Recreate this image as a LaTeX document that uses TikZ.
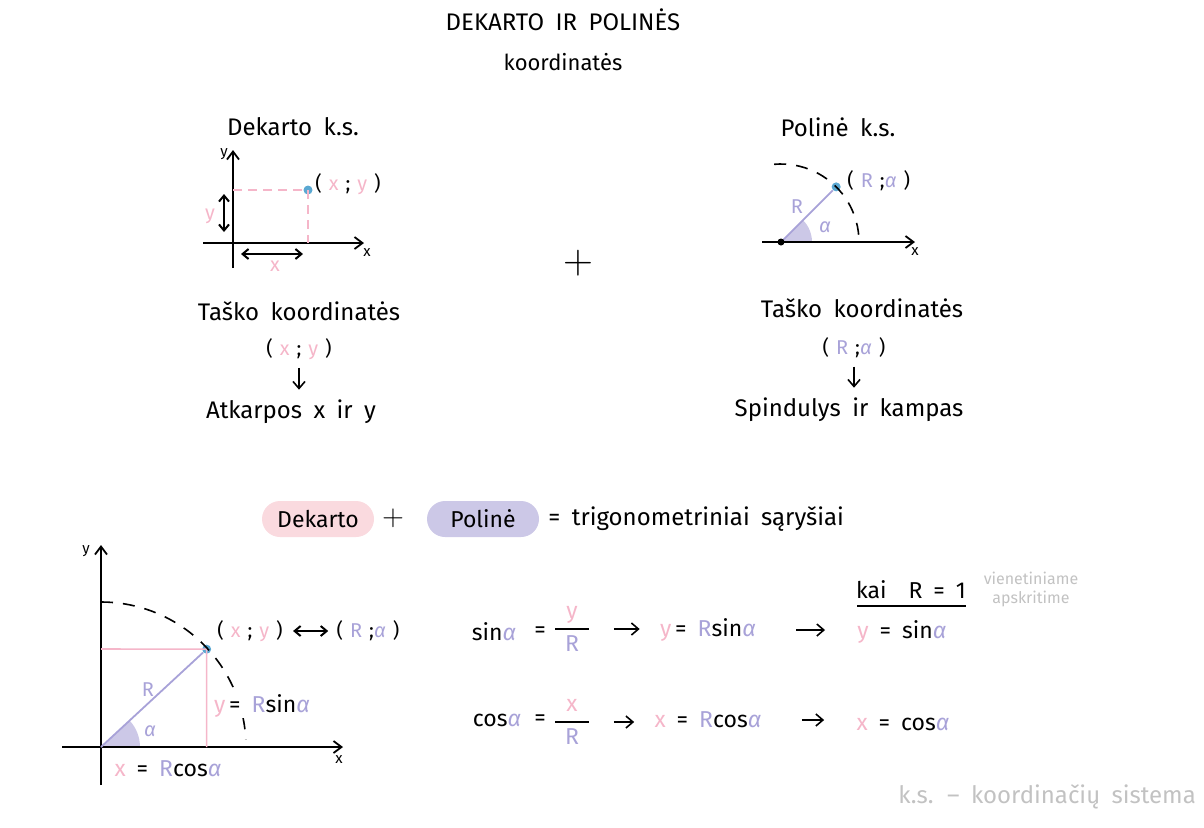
\documentclass[tikz,border=0pt]{standalone}
\usepackage{fontspec}
\setmainfont{Fira Sans}[WordSpace=1.8]
\usepackage{xcolor}
\definecolor{pinkc}{HTML}{F5B6C9}
\definecolor{pinkfill}{HTML}{FADADF}
\definecolor{lav}{HTML}{A8A2D8}
\definecolor{lavfill}{HTML}{CCC8E7}
\definecolor{dotblue}{HTML}{5AA8D2}
\definecolor{notegray}{HTML}{C2C2C2}
\usetikzlibrary{arrows.meta,positioning,calc}
\tikzset{
  lbl/.style   = {font=\fontsize{12}{14}\selectfont, inner sep=1pt},
  eqn/.style   = {font=\fontsize{11.5}{14}\selectfont, inner sep=1pt},
  small/.style = {font=\fontsize{10}{12}\selectfont, inner sep=1pt},
  tiny/.style  = {font=\fontsize{7.5}{9}\selectfont, inner sep=1pt},
  note/.style  = {text=notegray, inner sep=1pt},
  pill/.style  = {rounded corners=9pt, minimum width=56pt, minimum height=18pt,
                  inner sep=0pt, font=\fontsize{11.5}{14}\selectfont},
  dot/.style   = {circle, fill=dotblue, inner sep=0pt, minimum size=4.5pt},
  axis/.style  = {-{Straight Barb[length=4pt,width=6pt]}, line width=0.9pt},
  arr/.style   = {-{Straight Barb[length=3.5pt,width=6pt]}, line width=0.8pt},
  dbl/.style   = {{Straight Barb[length=3pt,width=5pt]}-{Straight Barb[length=3pt,width=5pt]}, line width=1pt},
  guide/.style = {pinkc, line width=0.8pt},
  ray/.style   = {lav, line width=0.9pt},
  arcdash/.style = {dash pattern=on 6pt off 5pt, line width=0.8pt}
}
\newcommand{\xp}{\textcolor{pinkc}{x}}
\newcommand{\yp}{\textcolor{pinkc}{y}}
\newcommand{\Rl}{\textcolor{lav}{R}}
\newcommand{\alf}{\textcolor{lav}{\itshape α}}
\newcommand{\gp}{\hspace{3.5pt}}
\newcommand{\frc}[2]{$\displaystyle{\hbox to 17pt{\hss#1\hss}\above0.8pt\hbox to 17pt{\hss#2\hss}}$}

\begin{document}
\begin{tikzpicture}[x=0.5pt,y=-0.5pt]
  \useasboundingbox (0,0) rectangle (1204,827);

  % title
  \node[lbl] (title) at (563,20) {DEKARTO IR POLINĖS};
  \node[font=\fontsize{11}{13}\selectfont] (sub) at (563,62) {koordinatės};

  % Dekarto k.s.
  \node[lbl] (dekhead) at (293,127) {Dekarto k.s.};
  \draw[axis] (233,268) -- (233,150);
  \draw[axis] (203,243) -- (364,243);
  \node[tiny] (ya1) at (224,154) {y};
  \node[tiny] (xa1) at (367,253) {x};
  \node[dot] (pt1) at (308,190) {};
  \draw[guide, dash pattern=on 4.5pt off 3pt] (233,190) -- (pt1.center) -- (308,243);
  \node[small, anchor=west] (c1) at (313,184) {(\gp\xp\gp;\gp\yp\gp)};
  \draw[dbl] (224,194) -- (224,232);
  \node[small, text=pinkc] (ylen) at (210,216) {y};
  \draw[dbl] (241,254) -- (303,254);
  \node[small, text=pinkc] (xlen) at (275,266) {x};

  % Poline k.s.
  \node[lbl] (polhead) at (838,127) {Polinė k.s.};
  \coordinate (o1) at (781,242);
  \fill[lavfill] (o1) -- ++(31,0) arc (0:-45:31) -- cycle;
  \draw[axis] (762,242) -- (915,242);
  \node[tiny] (xa2) at (915,252) {x};
  \node[dot] (pt2) at ($(o1)+(-45:78)$) {};
  \draw[ray] (o1) -- (pt2);
  \draw[arcdash] (o1) ++(-95:78) arc (-95:-4:78);
  \fill (o1) circle (3.5);
  \node[small, text=lav] (r1) at (797,207) {R};
  \node[small] (a1) at (825,227) {\alf};
  \node[small, anchor=west] (c2) at (845,181) {(\gp\Rl\gp;\alf\gp)};

  \node[font=\fontsize{20}{22}\selectfont] (plus1) at (578,263) {$+$};

  % tasko koordinates
  \node[lbl] (tk1) at (299,311) {Taško koordinatės};
  \node[small] (c5) at (299,349) {(\gp\xp\gp;\gp\yp\gp)};
  \node[lbl] (atk) at (291,412) {Atkarpos x ir y};
  \draw[arr, shorten <=3pt, shorten >=4pt] (c5) -- (c5 |- atk.north);

  \node[lbl] (tk2) at (862,308) {Taško koordinatės};
  \node[small] (c6) at (854,348) {(\gp\Rl\gp;\alf\gp)};
  \node[lbl] (spi) at (849,410) {Spindulys ir kampas};
  \draw[arr, shorten <=3pt, shorten >=4pt] (c6) -- (c6 |- spi.north);

  % Dekarto + Poline
  \node[pill, fill=pinkfill] (dek) at (318,519) {Dekarto};
  \node[font=\fontsize{15}{17}\selectfont] (plus2) at (393,518) {$+$};
  \node[pill, fill=lavfill] (pol) at (483,519) {Polinė};
  \node[lbl, anchor=west] (trig) at (546,519) {= trigonometriniai sąryšiai};

  % apskritimas
  \coordinate (o2) at (101,747);
  \fill[lavfill] (o2) -- ++(39,0) arc (0:-42.8:39) -- cycle;
  \draw[axis] (101,785) -- (101,545);
  \draw[axis] (62,747) -- (343,747);
  \node[tiny] (ya2) at (86,551) {y};
  \node[tiny] (xa3) at (339,760) {x};
  \node[dot] (pt3) at ($(o2)+(-42.8:144)$) {};
  \draw[guide] (101,649) -- (pt3.center) -- (pt3.center |- o2);
  \draw[ray] (o2) -- (pt3);
  \draw[arcdash] (o2) ++(-90:145) arc (-90:-3:145);
  \node[small, text=lav] (r2) at (148,690) {R};
  \node[small] (a2) at (150,731) {\alf};
  \node[eqn, fill=white, inner sep=0.5pt] (ysin) at (262,706) {\yp\,= \Rl sin\alf};
  \node[eqn] (xcos) at (168,769) {\xp\ = \Rl cos\alf};
  \node[small] (c3) at (250,631) {(\gp\xp\gp;\gp\yp\gp)};
  \node[small] (c4) at (368,631) {(\gp\Rl\gp;\alf\gp)};
  \draw[dbl, shorten <=4pt, shorten >=3pt] (c3) -- (c4);

  % formules
  \node[eqn] (sin1) at (494,632) {sin\alf};
  \node[eqn] (eq1) at (540,632) {=};
  \node[eqn] (fr1) at (572,629) {\frc{\yp}{\Rl}};
  \node[eqn] (ys1) at (708,630) {\yp\,= \Rl sin\alf};
  \node[eqn] (ys2) at (902,632) {\yp\ = sin\alf};
  \draw[arr, shorten <=10pt, shorten >=9pt] (fr1.east) -- (fr1.east -| ys1.west);
  \draw[arr, shorten <=19pt, shorten >=15pt] (ys1.east) -- (ys1.east -| ys2.west);

  \node[eqn] (cos1) at (497,720) {cos\alf};
  \node[eqn] (eq2) at (540,720) {=};
  \node[eqn] (fr2) at (572,722) {\frc{\xp}{\Rl}};
  \node[eqn] (xc1) at (708,720) {\xp\ = \Rl cos\alf};
  \node[eqn] (xc2) at (903,724) {\xp\ = cos\alf};
  \draw[arr, shorten <=10pt, shorten >=9pt] (fr2.east) -- (fr2.east -| xc1.west);
  \draw[arr, shorten <=19pt, shorten >=15pt] (xc1.east) -- (xc1.east -| xc2.west);

  \node[eqn] (kai) at (911,590) {kai \ R = 1};
  \draw[line width=0.9pt] (857,606) -- (966,606);
  \node[note, align=center, font=\fontsize{8}{9.5}\selectfont] (vien) at (1031,589) {vienetiniame\\apskritime};

  \node[note, anchor=west, font=\fontsize{12}{14}\selectfont] (foot) at (896,797) {k.s. – koordinačių sistema};
\end{tikzpicture}
\end{document}
